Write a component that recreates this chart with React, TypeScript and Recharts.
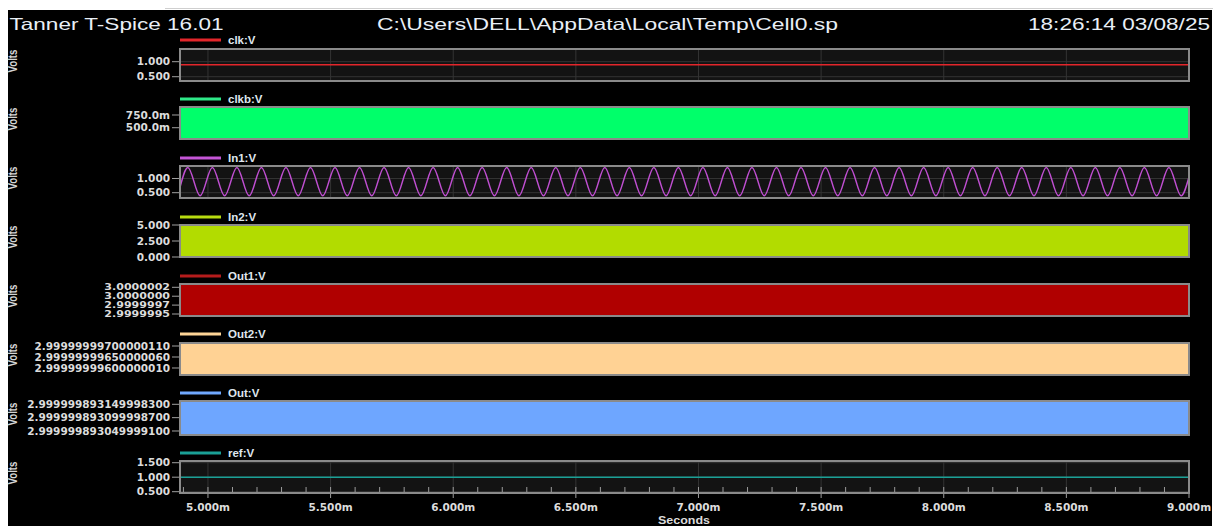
import { ComposedChart, Line, Area, XAxis, YAxis, CartesianGrid } from 'recharts';

const TITLE = 'Tanner T-Spice 16.01';
const FILE_PATH = 'C:\\Users\\DELL\\AppData\\Local\\Temp\\Cell0.sp';
const STAMP = '18:26:14 03/08/25';

// time axis (ms)
const X_DOMAIN = [4.886, 9.0];
const X_MAJOR = [5.0, 5.5, 6.0, 6.5, 7.0, 7.5, 8.0, 8.5, 9.0];
const X_MAJOR_LABELS = ['5.000m', '5.500m', '6.000m', '6.500m', '7.000m', '7.500m', '8.000m', '8.500m', '9.000m'];
const X_MINOR = [
  4.9, 5.0, 5.1, 5.2, 5.3, 5.4, 5.5, 5.6, 5.7, 5.8, 5.9, 6.0, 6.1, 6.2, 6.3, 6.4, 6.5, 6.6, 6.7, 6.8, 6.9,
  7.0, 7.1, 7.2, 7.3, 7.4, 7.5, 7.6, 7.7, 7.8, 7.9, 8.0, 8.1, 8.2, 8.3, 8.4, 8.5, 8.6, 8.7, 8.8, 8.9, 9.0,
];

// clk:V
const CLK_TIME = [4.886, 9.0];
const CLK_VOLTS = [0.9, 0.9];
const CLK_TICKS = [0.5, 1.0];
const CLK_LABELS = ['0.500', '1.000'];

// clkb:V (dense switching, drawn as its envelope)
const CLKB_TIME = [4.886, 9.0];
const CLKB_LOW = [0.278, 0.278];
const CLKB_HIGH = [0.907, 0.907];
const CLKB_TICKS = [0.5, 0.75];
const CLKB_LABELS = ['500.0m', '750.0m'];

// In1:V sine, peaks and troughs
const IN1_TIME = [
  4.886, 4.918, 4.968, 5.018, 5.068, 5.118, 5.168, 5.218, 5.268, 5.318, 5.368,
  5.418, 5.468, 5.518, 5.568, 5.618, 5.668, 5.718, 5.768, 5.818, 5.868,
  5.918, 5.968, 6.018, 6.068, 6.118, 6.168, 6.218, 6.268, 6.318, 6.368,
  6.418, 6.468, 6.518, 6.568, 6.618, 6.668, 6.718, 6.768, 6.818, 6.868,
  6.918, 6.968, 7.018, 7.068, 7.118, 7.168, 7.218, 7.268, 7.318, 7.368,
  7.418, 7.468, 7.518, 7.568, 7.618, 7.668, 7.718, 7.768, 7.818, 7.868,
  7.918, 7.968, 8.018, 8.068, 8.118, 8.168, 8.218, 8.268, 8.318, 8.368,
  8.418, 8.468, 8.518, 8.568, 8.618, 8.668, 8.718, 8.768, 8.818, 8.868,
  8.918, 8.968, 9.0,
];
const IN1_VOLTS = [
  0.69, 1.39, 0.39, 1.39, 0.39, 1.39, 0.39, 1.39, 0.39, 1.39, 0.39,
  1.39, 0.39, 1.39, 0.39, 1.39, 0.39, 1.39, 0.39, 1.39, 0.39,
  1.39, 0.39, 1.39, 0.39, 1.39, 0.39, 1.39, 0.39, 1.39, 0.39,
  1.39, 0.39, 1.39, 0.39, 1.39, 0.39, 1.39, 0.39, 1.39, 0.39,
  1.39, 0.39, 1.39, 0.39, 1.39, 0.39, 1.39, 0.39, 1.39, 0.39,
  1.39, 0.39, 1.39, 0.39, 1.39, 0.39, 1.39, 0.39, 1.39, 0.39,
  1.39, 0.39, 1.39, 0.39, 1.39, 0.39, 1.39, 0.39, 1.39, 0.39,
  1.39, 0.39, 1.39, 0.39, 1.39, 0.39, 1.39, 0.39, 1.39, 0.39,
  1.39, 0.39, 1.05,
];
const IN1_TICKS = [0.5, 1.0];
const IN1_LABELS = ['0.500', '1.000'];

// In2:V
const IN2_TIME = [4.886, 9.0];
const IN2_LOW = [0, 0];
const IN2_HIGH = [5, 5];
const IN2_TICKS = [0, 2.5, 5];
const IN2_LABELS = ['0.000', '2.500', '5.000'];

// Out1:V
const OUT1_TIME = [4.886, 9.0];
const OUT1_LOW = [2.999999444, 2.999999444];
const OUT1_HIGH = [3.000000343, 3.000000343];
const OUT1_TICKS = [2.9999995, 2.99999975, 3.0, 3.00000025];
const OUT1_LABELS = ['2.9999995', '2.9999997', '3.0000000', '3.0000002'];

// Out2:V
const OUT2_TIME = [4.886, 9.0];
const OUT2_LOW = [2.9999999956818, 2.9999999956818];
const OUT2_HIGH = [2.9999999971364, 2.9999999971364];
const OUT2_TICKS = [2.999999996, 2.9999999965, 2.999999997];
const OUT2_LABELS = ['2.99999999600000010', '2.99999999650000060', '2.99999999700000110'];

// Out:V
const OUT_TIME = [4.886, 9.0];
const OUT_LOW = [2.999999893035, 2.999999893035];
const OUT_HIGH = [2.9999998931624, 2.9999998931624];
const OUT_TICKS = [2.9999998930499991, 2.9999998930999987, 2.9999998931499983];
const OUT_LABELS = ['2.999999893049999100', '2.999999893099998700', '2.999999893149998300'];

// ref:V
const REF_TIME = [4.886, 9.0];
const REF_VOLTS = [1.0, 1.0];
const REF_TICKS = [0.5, 1.0, 1.5];
const REF_LABELS = ['0.500', '1.000', '1.500'];

const W = 1213;
const H = 526;
const PLOT_LEFT = 180;
const PLOT_RIGHT = 1189;
const PAD = 10;
const AXIS_FONT = '"DejaVu Sans", sans-serif';
const HEAD_FONT = '"Liberation Sans", Arial, sans-serif';

const lineRows = (time: number[], v: number[]) => time.map((t, i) => ({ t, v: v[i] }));
const bandRows = (time: number[], lo: number[], hi: number[]) =>
  time.map((t, i) => ({ t, band: [lo[i], hi[i]] }));

function TimeTick(props: any) {
  const { x, y, payload } = props;
  const i = X_MAJOR.findIndex((m) => Math.abs(m - payload.value) < 1e-6);
  return (
    <g>
      <line x1={x} x2={x} y1={y - 6} y2={i >= 0 ? y + 5 : y} stroke="#9c9c9c" strokeWidth={1} />
      {i >= 0 && (
        <text x={x} y={y + 18} textAnchor="middle" fill="#dcdcdc" fontSize={10.5} fontWeight="bold" fontFamily={AXIS_FONT}>
          {X_MAJOR_LABELS[i]}
        </text>
      )}
    </g>
  );
}

// y tick label; squeezed panels get a smaller, horizontally stretched font
function VoltTick(props: any) {
  const { x, y, index, labels, size, stretch } = props;
  return (
    <text
      transform={`translate(${x}, ${y}) scale(${stretch}, 1)`}
      dy="0.36em"
      textAnchor="end"
      fill="#dcdcdc"
      fontSize={size}
      fontWeight="bold"
      fontFamily={AXIS_FONT}
    >
      {labels[index]}
    </text>
  );
}

interface PanelProps {
  top: number;
  height: number;
  data: any[];
  domain: number[];
  ticks: number[];
  labels: string[];
  showX?: boolean;
  tickSize?: number;
  tickStretch?: number;
  children: any;
}

function Panel({ top, height, data, domain, ticks, labels, showX, tickSize = 10.5, tickStretch = 1, children }: PanelProps) {
  const axisH = showX ? 34 : 0;
  const bottom = showX ? 0 : 8;
  const chartH = PAD + height + axisH + bottom;
  return (
    <div style={{ position: 'absolute', left: 0, top: top - PAD, width: W, height: chartH }}>
      <ComposedChart
        width={W}
        height={chartH}
        data={data}
        margin={{ top: PAD, right: W - PLOT_RIGHT, bottom, left: 0 }}
      >
        <CartesianGrid fill="#131313" stroke="#343434" verticalValues={X_MAJOR} horizontalValues={ticks} />
        <XAxis
          type="number"
          dataKey="t"
          domain={X_DOMAIN}
          ticks={X_MINOR}
          allowDataOverflow
          hide={!showX}
          height={axisH}
          axisLine={false}
          tickLine={false}
          tickSize={0}
          tickMargin={0}
          interval={0}
          tick={<TimeTick />}
        />
        <YAxis
          type="number"
          width={PLOT_LEFT}
          domain={domain}
          ticks={ticks}
          allowDataOverflow
          interval={0}
          axisLine={false}
          tickLine={{ stroke: '#a0a0a0' }}
          tickSize={8}
          tickMargin={2}
          tick={<VoltTick labels={labels} size={tickSize} stretch={tickStretch} />}
        />
        {children}
      </ComposedChart>
      <div
        style={{
          position: 'absolute',
          left: PLOT_LEFT - 1,
          top: PAD - 1,
          width: PLOT_RIGHT - PLOT_LEFT + 2,
          height: height + 2,
          border: '2px solid #8a8a8a',
          boxSizing: 'border-box',
          pointerEvents: 'none',
        }}
      />
    </div>
  );
}

const LEGENDS = [
  { name: 'clk:V', color: '#e3262b', y: 40 },
  { name: 'clkb:V', color: '#2ee888', y: 99 },
  { name: 'In1:V', color: '#c455d6', y: 158 },
  { name: 'In2:V', color: '#b8dc10', y: 217 },
  { name: 'Out1:V', color: '#b51c1c', y: 276 },
  { name: 'Out2:V', color: '#ffd597', y: 334 },
  { name: 'Out:V', color: '#70a8ff', y: 393 },
  { name: 'ref:V', color: '#1aa096', y: 453 },
];

const BOXES = [
  [49, 32],
  [107, 32],
  [166, 32],
  [225, 32],
  [284, 32],
  [343, 32],
  [401, 34],
  [461, 32],
];

export default function App() {
  return (
    <div style={{ position: 'absolute', left: 0, top: 0, width: W, height: H, background: '#fff', overflow: 'hidden' }}>
      <div style={{ position: 'absolute', left: 165, top: 8, width: W - 165, height: 1, background: '#cfcfcf' }} />
      <div style={{ position: 'absolute', left: 8, top: 10, width: 1204, height: H - 10, background: '#000' }} />

      <Panel top={49} height={32} data={lineRows(CLK_TIME, CLK_VOLTS)} domain={[0.357, 1.423]} ticks={CLK_TICKS} labels={CLK_LABELS}>
        <Line type="linear" dataKey="v" stroke="#e3262b" strokeWidth={1.5} dot={false} isAnimationActive={false} />
      </Panel>

      <Panel top={107} height={32} data={bandRows(CLKB_TIME, CLKB_LOW, CLKB_HIGH)} domain={[0.278, 0.907]} ticks={CLKB_TICKS} labels={CLKB_LABELS}>
        <Area type="linear" dataKey="band" stroke="#00ff6a" fill="#00ff6a" fillOpacity={1} isAnimationActive={false} />
      </Panel>

      <Panel top={166} height={32} data={lineRows(IN1_TIME, IN1_VOLTS)} domain={[0.313, 1.44]} ticks={IN1_TICKS} labels={IN1_LABELS}>
        <Line type="monotone" dataKey="v" stroke="#c04fd2" strokeWidth={1.5} dot={false} isAnimationActive={false} />
      </Panel>

      <Panel top={225} height={32} data={bandRows(IN2_TIME, IN2_LOW, IN2_HIGH)} domain={[0, 5]} ticks={IN2_TICKS} labels={IN2_LABELS}>
        <Area type="linear" dataKey="band" stroke="#b2dc00" fill="#b2dc00" fillOpacity={1} isAnimationActive={false} />
      </Panel>

      <Panel
        top={284}
        height={32}
        data={bandRows(OUT1_TIME, OUT1_LOW, OUT1_HIGH)}
        domain={[2.999999444, 3.000000343]}
        ticks={OUT1_TICKS}
        labels={OUT1_LABELS}
        tickSize={8.5}
        tickStretch={1.3}
      >
        <Area type="linear" dataKey="band" stroke="#b00000" fill="#b00000" fillOpacity={1} isAnimationActive={false} />
      </Panel>

      <Panel top={343} height={32} data={bandRows(OUT2_TIME, OUT2_LOW, OUT2_HIGH)} domain={[2.9999999956818, 2.9999999971364]} ticks={OUT2_TICKS} labels={OUT2_LABELS}>
        <Area type="linear" dataKey="band" stroke="#ffd294" fill="#ffd294" fillOpacity={1} isAnimationActive={false} />
      </Panel>

      <Panel top={401} height={34} data={bandRows(OUT_TIME, OUT_LOW, OUT_HIGH)} domain={[2.999999893035, 2.9999998931624]} ticks={OUT_TICKS} labels={OUT_LABELS}>
        <Area type="linear" dataKey="band" stroke="#6ea6ff" fill="#6ea6ff" fillOpacity={1} isAnimationActive={false} />
      </Panel>

      <Panel top={461} height={32} showX data={lineRows(REF_TIME, REF_VOLTS)} domain={[0.455, 1.559]} ticks={REF_TICKS} labels={REF_LABELS}>
        <Line type="linear" dataKey="v" stroke="#1aa096" strokeWidth={1.5} dot={false} isAnimationActive={false} />
      </Panel>

      <svg width={W} height={H} style={{ position: 'absolute', left: 0, top: 0, pointerEvents: 'none' }}>
        <text x={9.5} y={30} fill="#e9eff6" fontSize={16.5} fontFamily={HEAD_FONT} textLength={214} lengthAdjust="spacingAndGlyphs">
          {TITLE}
        </text>
        <text x={377} y={30} fill="#e9eff6" fontSize={16.5} fontFamily={HEAD_FONT} textLength={461} lengthAdjust="spacingAndGlyphs">
          {FILE_PATH}
        </text>
        <text x={1028} y={30} fill="#e9eff6" fontSize={16.5} fontFamily={HEAD_FONT} textLength={182} lengthAdjust="spacingAndGlyphs">
          {STAMP}
        </text>
        {LEGENDS.map((l) => (
          <g key={l.name}>
            <line x1={180} x2={221} y1={l.y} y2={l.y} stroke={l.color} strokeWidth={3} />
            <text x={228} y={l.y + 4} fill="#dfe6ee" fontSize={11.5} fontWeight="bold" fontFamily={HEAD_FONT}>
              {l.name}
            </text>
          </g>
        ))}
        {BOXES.map(([top, h]) => (
          <text
            key={top}
            transform={`translate(17, ${top + h / 2 - 4}) rotate(-90)`}
            textAnchor="middle"
            fill="#d4d4d4"
            fontSize={13}
            fontWeight="bold"
            fontFamily={HEAD_FONT}
            textLength={23}
            lengthAdjust="spacingAndGlyphs"
          >
            Volts
          </text>
        ))}
        <text x={684} y={524} textAnchor="middle" fill="#dcdcdc" fontSize={11} fontWeight="bold" fontFamily={HEAD_FONT} textLength={52} lengthAdjust="spacingAndGlyphs">
          Seconds
        </text>
      </svg>
    </div>
  );
}
